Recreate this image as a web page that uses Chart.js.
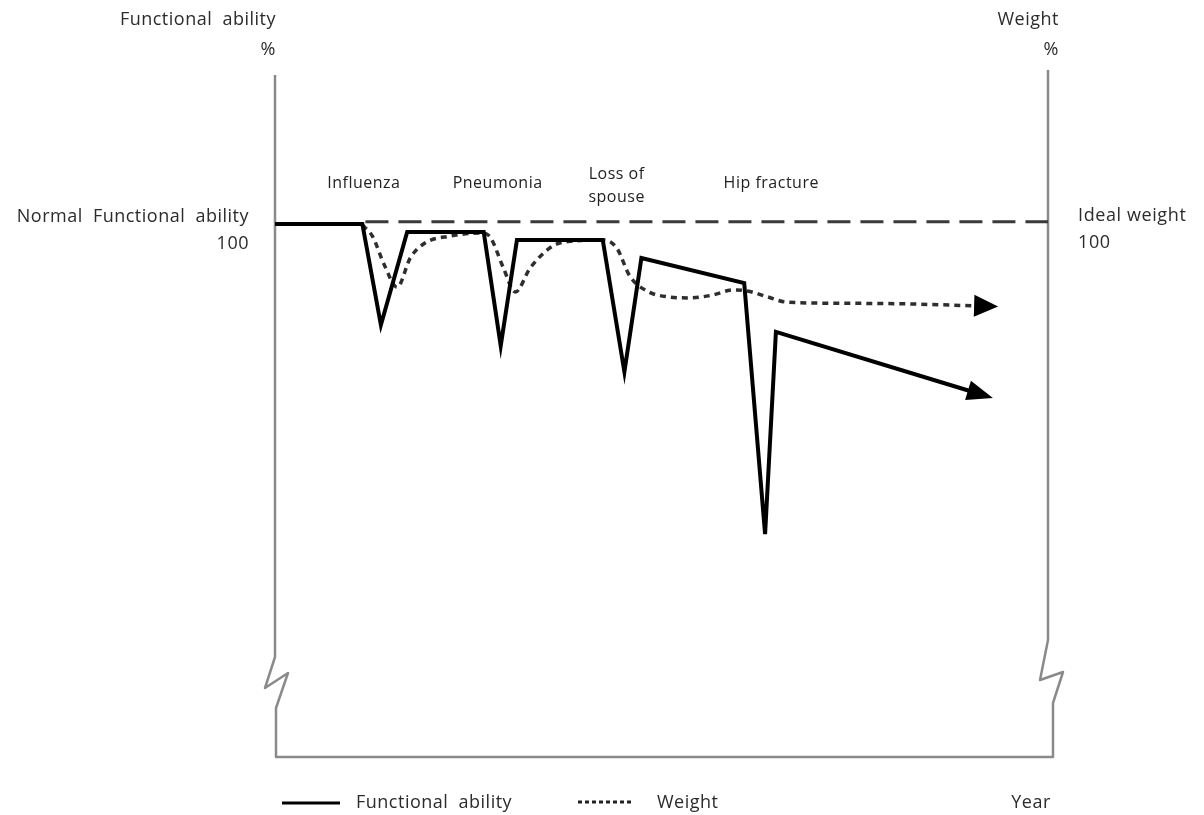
<!DOCTYPE html>
<html>
<head>
<meta charset="utf-8">
<script src="https://cdn.jsdelivr.net/npm/chart.js@4"></script>
<style>
  body { margin: 0; background: #fff; }
  #wrap { width: 1204px; height: 815px; }
</style>
</head>
<body>
<div id="wrap"><canvas id="chart" width="1204" height="815"></canvas></div>
<script>
// x = time (arbitrary units 0..100), y = percent of normal
const fnX = [0, 11.3, 13.7, 17.1, 27.0, 29.2, 31.3, 42.4, 45.2, 47.4, 60.7, 63.4, 64.8, 89.9];
const fnY = [100.2, 100.2, 81.2, 98.7, 98.7, 77.3, 97.2, 97.2, 72.4, 93.8, 89.1, 41.9, 79.9, 68.8];

const wtX = [11.3, 12.6, 14.2, 15.8, 17.5, 19.4, 22.6, 26.9, 27.9, 29.5, 31.1, 33.0, 36.0, 38.8, 42.4,
             44.2, 45.9, 48.1, 50.8, 53.7, 56.5, 59.3, 61.1, 63.7, 66.2, 72.2, 80.9, 90.7];
const wtY = [100, 97.9, 92.3, 88.3, 93.8, 96.6, 97.9, 98.5, 97.6, 92.1, 87.4, 91.9, 96.1, 97.0, 97.2,
             95.7, 90.4, 87.6, 86.5, 86.3, 86.8, 87.8, 87.6, 86.5, 85.5, 85.3, 85.2, 84.8];

const refX = [11.7, 100];
const refY = [100.6, 100.6];

const events = ['Influenza', 'Pneumonia', ['Loss of', 'spouse'], 'Hip fracture'];
const eventX = [11.5, 28.8, 44.2, 64.2];

function pts(xs, ys) {
    return xs.map((x, i) => ({ x: x, y: ys[i] }));
}

const textColor = '#2b2b2b';

function setLabelText(ctx, size, ls, ws) {
    ctx.font = size + 'px "Open Sans"';
    ctx.letterSpacing = ls + 'px';
    ctx.wordSpacing = ws + 'px';
}

const extras = {
    id: 'extras',
    beforeDatasetsDraw(chart) {
        const ctx = chart.ctx;
        const a = chart.chartArea;
        ctx.save();
        ctx.strokeStyle = '#8a8a8a';
        ctx.lineWidth = 2.5;
        ctx.lineJoin = 'round';
        // axes with break marks
        ctx.beginPath();
        ctx.moveTo(a.left, a.top + 3);
        ctx.lineTo(a.left, a.bottom - 100);
        ctx.lineTo(a.left - 10, a.bottom - 69);
        ctx.lineTo(a.left + 13, a.bottom - 84);
        ctx.lineTo(a.left + 1, a.bottom - 49);
        ctx.lineTo(a.left + 1, a.bottom);
        ctx.lineTo(a.right + 5, a.bottom);
        ctx.lineTo(a.right + 5, a.bottom - 54);
        ctx.lineTo(a.right + 15, a.bottom - 85);
        ctx.lineTo(a.right - 8, a.bottom - 77);
        ctx.lineTo(a.right, a.bottom - 117);
        ctx.lineTo(a.right, a.top - 2);
        ctx.stroke();
        ctx.restore();
    },
    afterDatasetsDraw(chart) {
        const ctx = chart.ctx;
        chart.data.datasets.forEach((ds, i) => {
            if (!ds.arrow) return;
            const d = chart.getDatasetMeta(i).data;
            const p = d[d.length - 1], q = d[d.length - 2];
            const ang = Math.atan2(p.y - q.y, p.x - q.x);
            const len = ds.arrow.len, hw = ds.arrow.hw;
            ctx.save();
            ctx.translate(p.x, p.y);
            ctx.rotate(ang);
            ctx.fillStyle = '#000';
            ctx.beginPath();
            ctx.moveTo(len, 0);
            ctx.lineTo(-2, -hw);
            ctx.lineTo(-2, hw);
            ctx.closePath();
            ctx.fill();
            ctx.restore();
        });
    },
    afterDraw(chart) {
        const ctx = chart.ctx;
        const a = chart.chartArea;
        const xs = chart.scales.x;
        ctx.save();
        ctx.fillStyle = textColor;
        ctx.textBaseline = 'middle';
        setLabelText(ctx, 18, 0.5, 5);

        ctx.textAlign = 'right';
        ctx.fillText('Functional ability', a.left + 1, 20);
        ctx.fillText('%', a.left + 1, 50);
        ctx.fillText('Weight', a.right + 11, 20);
        ctx.fillText('%', a.right + 11, 50);
        ctx.fillText('Normal Functional ability', a.left - 26, 217);
        ctx.fillText('100', a.left - 26, 244);

        ctx.textAlign = 'left';
        setLabelText(ctx, 18, 0.6, 0);
        ctx.fillText('Ideal weight', a.right + 30, 216);
        ctx.fillText('100', a.right + 30, 243);

        // event labels
        setLabelText(ctx, 16, 0.5, 0);
        ctx.fillStyle = '#222';
        ctx.textAlign = 'center';
        events.forEach((e, i) => {
            const px = xs.getPixelForValue(eventX[i]);
            if (Array.isArray(e)) {
                ctx.fillText(e[0], px, 174);
                ctx.fillText(e[1], px, 197);
            } else {
                ctx.fillText(e, px, 183);
            }
        });

        // legend
        const ly = 803;
        ctx.strokeStyle = '#000';
        ctx.lineWidth = 3;
        ctx.beginPath();
        ctx.moveTo(282, ly);
        ctx.lineTo(340, ly);
        ctx.stroke();
        ctx.strokeStyle = '#222';
        ctx.setLineDash([4, 3]);
        ctx.beginPath();
        ctx.moveTo(578, ly - 1);
        ctx.lineTo(634, ly - 1);
        ctx.stroke();
        ctx.setLineDash([]);

        setLabelText(ctx, 18, 0.5, 5);
        ctx.fillStyle = textColor;
        ctx.textAlign = 'left';
        ctx.fillText('Functional ability', 356, ly);
        ctx.fillText('Weight', 657, ly);
        ctx.textAlign = 'center';
        ctx.fillText('Year', 1031, ly);
        ctx.restore();
    }
};

new Chart(document.getElementById('chart'), {
    type: 'line',
    data: {
        datasets: [
            {
                label: 'Functional ability',
                data: pts(fnX, fnY),
                borderColor: '#000',
                borderWidth: 4,
                tension: 0,
                pointRadius: 0,
                borderJoinStyle: 'miter',
                arrow: { len: 24, hw: 10 }
            },
            {
                label: 'Weight',
                data: pts(wtX, wtY),
                borderColor: '#2e2e2e',
                borderWidth: 3.5,
                borderDash: [6, 5],
                cubicInterpolationMode: 'monotone',
                pointRadius: 0,
                arrow: { len: 22, hw: 11 }
            },
            {
                label: 'Ideal',
                data: pts(refX, refY),
                borderColor: '#3a3a3a',
                borderWidth: 3,
                borderDash: [23, 10],
                pointRadius: 0
            }
        ]
    },
    options: {
        responsive: false,
        animation: false,
        layout: { padding: { left: 275, right: 156, top: 72, bottom: 58 } },
        plugins: { legend: { display: false }, tooltip: { enabled: false } },
        scales: {
            x: { type: 'linear', min: 0, max: 100, display: false },
            y: { min: 0, max: 128.76, display: false }
        }
    },
    plugins: [extras]
});
</script>
</body>
</html>
